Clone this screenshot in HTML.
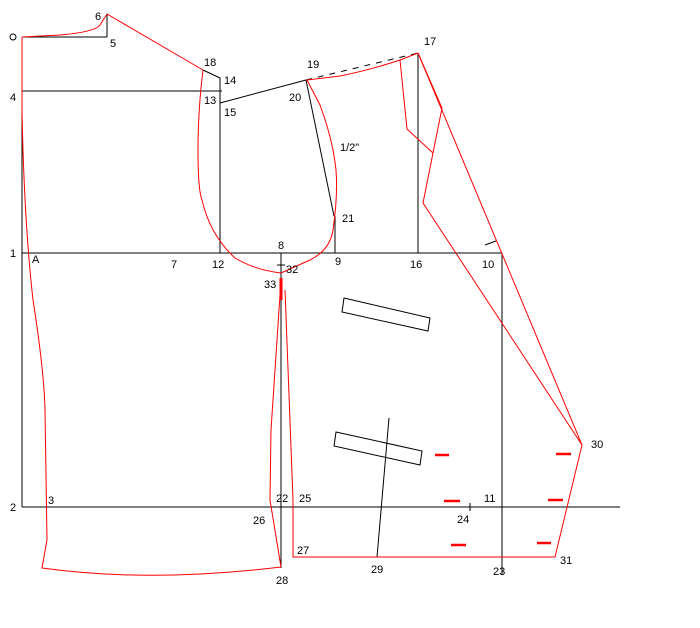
<!DOCTYPE html>
<html><head><meta charset="utf-8"><style>
html,body{margin:0;padding:0;background:#fff;}
svg{display:block;}
text{font-family:"Liberation Sans",sans-serif;font-size:11px;fill:#000;}
</style></head><body>
<svg width="700" height="628" viewBox="0 0 700 628" xmlns="http://www.w3.org/2000/svg">
<g stroke="#000" stroke-width="1" fill="none">
<line x1="22" y1="37" x2="107" y2="37"/>
<line x1="107" y1="14" x2="107" y2="37"/>
<line x1="22" y1="107" x2="22" y2="507"/>
<line x1="22" y1="91" x2="222" y2="91"/>
<polyline points="203,70 220,78 220,253"/>
<line x1="220" y1="103" x2="306" y2="80"/>
<line x1="306" y1="80" x2="334" y2="216"/>
<line x1="335" y1="216" x2="335" y2="253"/>
<line x1="306" y1="80" x2="418" y2="53" stroke-dasharray="6,6"/>
<line x1="418" y1="53" x2="418" y2="253"/>
<line x1="22" y1="253" x2="502" y2="253"/>
<line x1="502" y1="253" x2="502" y2="575"/>
<line x1="281" y1="253" x2="281" y2="568"/>
<line x1="22" y1="507" x2="620" y2="507"/>
<line x1="470" y1="503" x2="470" y2="511"/>
<line x1="485" y1="245" x2="496" y2="241"/>
<line x1="277" y1="265" x2="285" y2="265"/>
<line x1="389" y1="418" x2="377" y2="557"/>
<polygon points="344,298 430,318 428,331 342,312"/>
<polygon points="336,432 422,451 420,465 334,446"/>
</g>
<g stroke="#f00" stroke-width="1" fill="none">
<path d="M22,37 L60,35 Q95,32 100,25 L107,14 L203,70"/>
<path d="M22,37 L22,110 Q24,220 33,300 Q44,370 45,410 L47,540 L42,568 Q150,583 281,567"/>
<path d="M203,70 Q198,110 198,150 Q198,190 202,200 Q210,235 235,258 Q255,270 281,273"/>
<path d="M281,273 L310,260 Q330,250 333,230 Q338,195 336,170 Q333,140 320,105 L307,80 L340,76 Q370,70 400,60 L418,53"/>
<polyline points="400,60 407,129 433,153"/>
<polyline points="418,53 442,108 423,203 582,445"/>
<polyline points="418,53 582,445 555,557 293,557 293,500 285,290"/>
<path d="M281,280 L271,430 L270,500 L281,567"/>
<line x1="281" y1="278" x2="281" y2="300" stroke-width="3"/>
</g>
<g stroke="#f00" stroke-width="2.5">
<line x1="435" y1="455" x2="449" y2="455"/>
<line x1="556" y1="454" x2="571" y2="454"/>
<line x1="444" y1="501" x2="460" y2="501"/>
<line x1="548" y1="500" x2="563" y2="500"/>
<line x1="451" y1="545" x2="466" y2="545"/>
<line x1="537" y1="543" x2="551" y2="543"/>
</g>
<circle cx="13" cy="37" r="3" fill="none" stroke="#000"/>
<text x="95" y="20">6</text>
<text x="110" y="47">5</text>
<text x="204" y="66">18</text>
<text x="224" y="84">14</text>
<text x="204" y="104">13</text>
<text x="224" y="116">15</text>
<text x="10" y="101">4</text>
<text x="307" y="68">19</text>
<text x="289" y="101">20</text>
<text x="424" y="45">17</text>
<text x="340" y="151">1/2"</text>
<text x="342" y="222">21</text>
<text x="10" y="257">1</text>
<text x="32" y="263">A</text>
<text x="171" y="268">7</text>
<text x="212" y="268">12</text>
<text x="278" y="249">8</text>
<text x="286" y="273">32</text>
<text x="264" y="288">33</text>
<text x="335" y="265">9</text>
<text x="410" y="268">16</text>
<text x="482" y="268">10</text>
<text x="591" y="448">30</text>
<text x="10" y="511">2</text>
<text x="48" y="504">3</text>
<text x="276" y="502">22</text>
<text x="299" y="502">25</text>
<text x="253" y="524">26</text>
<text x="484" y="502">11</text>
<text x="457" y="523">24</text>
<text x="297" y="554">27</text>
<text x="371" y="573">29</text>
<text x="276" y="584">28</text>
<text x="493" y="575">23</text>
<text x="560" y="564">31</text>
</svg>
</body></html>
